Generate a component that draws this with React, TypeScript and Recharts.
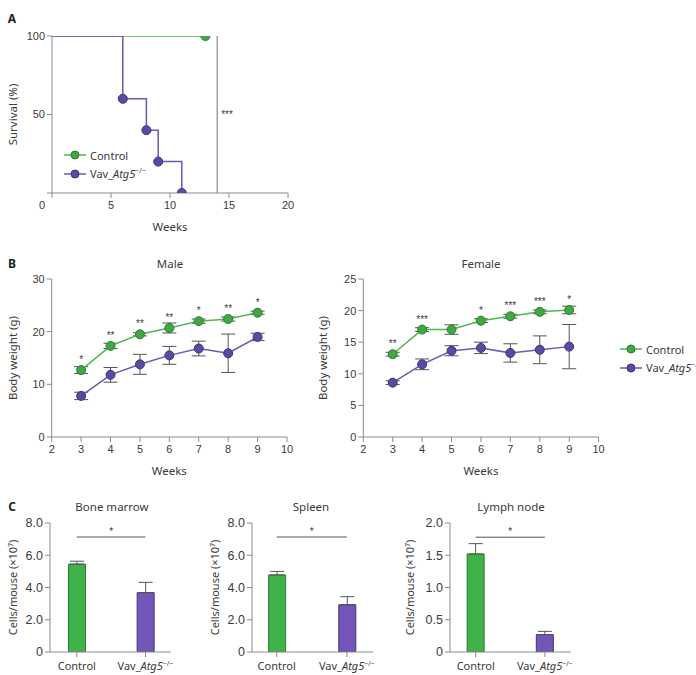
import React from "react";
import {
  LineChart,
  Line,
  BarChart,
  Bar,
  Cell,
  XAxis,
  YAxis,
  ErrorBar,
  LabelList,
  ReferenceLine,
  Legend,
} from "recharts";

// ---- data ----
// A: survival curves
const survWeeksControl = [0, 13];
const survControl = [100, 100];
const survWeeksVav = [0, 6, 8, 9, 11];
const survVav = [100, 60, 40, 20, 0];

// B: body weight by week
const weeks = [3, 4, 5, 6, 7, 8, 9];
const maleControl = [12.7, 17.3, 19.5, 20.7, 22.0, 22.4, 23.6];
const maleControlErr = [0.65, 0.5, 0.3, 0.95, 0.4, 0.4, 0.3];
const maleVav = [7.8, 11.8, 13.8, 15.5, 16.8, 15.9, 19.0];
const maleVavErr = [0.7, 1.4, 1.9, 1.7, 1.4, 3.65, 0.7];
const maleSig = ["*", "**", "**", "**", "*", "**", "*"];
const femaleControl = [13.1, 17.0, 17.0, 18.4, 19.1, 19.8, 20.1];
const femaleControlErr = [0.3, 0.3, 0.75, 0.3, 0.3, 0.3, 0.6];
const femaleVav = [8.6, 11.5, 13.65, 14.1, 13.3, 13.8, 14.3];
const femaleVavErr = [0.3, 0.85, 0.8, 0.9, 1.45, 2.2, 3.5];
const femaleSig = ["**", "***", "", "*", "***", "***", "*"];

// C: cell counts (x10^7 per mouse)
const groups = ["Control", "Vav_Atg5-/-"];
const boneMarrow = [5.45, 3.68];
const boneMarrowErr = [0.18, 0.64];
const spleen = [4.78, 2.93];
const spleenErr = [0.22, 0.5];
const lymphNode = [1.52, 0.27];
const lymphNodeErr = [0.16, 0.05];

// ---- style ----
const GREEN_LINE = "#4cb84e";
const GREEN_DOT = "#3fa843";
const GREEN_EDGE = "#2b7d30";
const PURPLE_LINE = "#6a5ab0";
const PURPLE_DOT = "#5a4aa0";
const PURPLE_EDGE = "#3f327f";
const BAR_GREEN = "#3fb24a";
const BAR_PURPLE = "#7456b8";
const AXIS = "#8c8c8c";
const TEXT = "#3a3a3a";
const ERR = "#555";
const TICK_FONT = "'Liberation Sans', Arial, sans-serif";
const TITLE_FONT = "'Noto Sans', 'Open Sans', sans-serif";

const tickStyle = { fill: TEXT, fontSize: 11, fontFamily: TICK_FONT };

function yTitle(text: string, offset: number, size = 11.5) {
  return {
    value: text,
    angle: -90,
    position: "insideLeft" as const,
    offset,
    fill: TEXT,
    fontSize: size,
    fontFamily: TITLE_FONT,
    style: { textAnchor: "middle" },
  };
}

const xTitle = {
  value: "Weeks",
  position: "insideBottom" as const,
  offset: 2,
  fill: TEXT,
  fontSize: 11.5,
  fontFamily: TITLE_FONT,
};

function WeekTick(props: any) {
  const { x, y, payload, shiftZero } = props;
  const dx = shiftZero && payload.value === 0 ? -10 : 0;
  return (
    <text x={x + dx} y={y} dy="0.75em" textAnchor="middle" {...tickStyle}>
      {payload.value}
    </text>
  );
}

function GroupTick(props: any) {
  const { x, y, payload } = props;
  const name = groups[payload.value];
  const style = { fill: TEXT, fontSize: 11, fontFamily: TITLE_FONT };
  if (name === "Control") {
    return (
      <text x={x} y={y} dy="0.75em" textAnchor="middle" {...style}>
        Control
      </text>
    );
  }
  return (
    <text x={x} y={y} dy="0.75em" textAnchor="middle" {...style}>
      <tspan>Vav_</tspan>
      <tspan fontStyle="italic">Atg5</tspan>
      <tspan dy={-4} fontSize={7}>−/−</tspan>
    </text>
  );
}

function SeriesLegend() {
  const rows = [
    { key: "c", line: GREEN_LINE, fill: GREEN_DOT, edge: GREEN_EDGE, label: <span>Control</span> },
    {
      key: "v",
      line: PURPLE_LINE,
      fill: PURPLE_DOT,
      edge: PURPLE_EDGE,
      label: (
        <span>
          Vav_<i>Atg5</i>
          <sup style={{ fontSize: 7 }}>−/−</sup>
        </span>
      ),
    },
  ];
  return (
    <div style={{ fontFamily: TITLE_FONT, fontSize: 11, color: TEXT, whiteSpace: "nowrap" }}>
      {rows.map((r) => (
        <div key={r.key} style={{ display: "flex", alignItems: "center", height: 18.5 }}>
          <svg width={26} height={12} style={{ flex: "none" }}>
            <line x1={0} x2={22} y1={6} y2={6} stroke={r.line} strokeWidth={1.5} />
            <circle cx={11} cy={6} r={4} fill={r.fill} stroke={r.edge} />
          </svg>
          {r.label}
        </div>
      ))}
    </div>
  );
}

function Title({ text, cx, cy, bold }: { text: string; cx: number; cy: number; bold?: boolean }) {
  return (
    <div
      style={{
        position: "absolute",
        left: cx - 60,
        top: cy - 8,
        width: 120,
        textAlign: "center",
        fontFamily: TITLE_FONT,
        fontSize: bold ? 12 : 11.5,
        fontWeight: bold ? 700 : 400,
        color: bold ? "#222" : TEXT,
        lineHeight: "16px",
      }}
    >
      {text}
    </div>
  );
}

function SurvivalPanel() {
  const controlData = survWeeksControl.map((w, i) => ({ week: w, pct: survControl[i] }));
  const vavData = survWeeksVav.map((w, i) => ({ week: w, pct: survVav[i] }));
  const dot = (fill: string, edge: string) => (p: any) =>
    p.index === 0 ? (
      <g key={`d${p.index}`} />
    ) : (
      <circle key={`d${p.index}`} cx={p.cx} cy={p.cy} r={4.5} fill={fill} stroke={edge} strokeWidth={1} />
    );
  return (
    <div style={{ position: "absolute", left: 0, top: 0 }}>
      <LineChart width={300} height={240} margin={{ top: 36, right: 12, bottom: 7, left: 0 }}>
        <XAxis
          type="number"
          dataKey="week"
          domain={[0, 20]}
          ticks={[0, 5, 10, 15, 20]}
          allowDataOverflow
          height={40}
          stroke={AXIS}
          tickSize={5}
          tickMargin={3}
          tick={<WeekTick shiftZero />}
          label={xTitle}
        />
        <YAxis
          type="number"
          domain={[0, 100]}
          ticks={[0, 50, 100]}
          allowDataOverflow
          width={52}
          stroke={AXIS}
          tickSize={5}
          tickMargin={2}
          tick={tickStyle}
          tickFormatter={(v: number) => (v === 0 ? "" : String(v))}
          label={yTitle("Survival (%)", 13)}
        />
        <ReferenceLine
          x={14}
          stroke={AXIS}
          strokeWidth={1.2}
          label={{ value: "***", position: "right", offset: 4, fill: TEXT, fontSize: 10, fontFamily: TICK_FONT }}
        />
        <Line
          data={controlData}
          dataKey="pct"
          name="Control"
          type="linear"
          stroke={GREEN_LINE}
          strokeWidth={1.5}
          dot={dot(GREEN_DOT, GREEN_EDGE)}
          isAnimationActive={false}
        />
        <Line
          data={vavData}
          dataKey="pct"
          name="Vav_Atg5-/-"
          type="stepAfter"
          stroke={PURPLE_LINE}
          strokeWidth={1.5}
          dot={dot(PURPLE_DOT, PURPLE_EDGE)}
          isAnimationActive={false}
        />
        <Legend
          layout="vertical"
          align="center"
          verticalAlign="middle"
          content={() => <SeriesLegend />}
          wrapperStyle={{ left: 64, top: 146, width: "auto" }}
        />
      </LineChart>
    </div>
  );
}

function WeightPanel({
  control,
  controlErr,
  vav,
  vavErr,
  sig,
  yMax,
  yTicks,
  left,
  width,
  axisWidth,
  titleOffset,
  legend,
}: {
  control: number[];
  controlErr: number[];
  vav: number[];
  vavErr: number[];
  sig: string[];
  yMax: number;
  yTicks: number[];
  left: number;
  width: number;
  axisWidth: number;
  titleOffset: number;
  legend?: boolean;
}) {
  const data = weeks.map((w, i) => ({
    week: w,
    control: control[i],
    controlErr: controlErr[i],
    vav: vav[i],
    vavErr: vavErr[i],
    sig: sig[i],
  }));
  const plotRight = axisWidth + 235.3;
  return (
    <div style={{ position: "absolute", left, top: 250 }}>
      <LineChart
        width={width}
        height={230}
        data={data}
        margin={{ top: 29, right: width - plotRight, bottom: 3, left: 0 }}
      >
        <XAxis
          type="number"
          dataKey="week"
          domain={[2, 10]}
          ticks={[2, 3, 4, 5, 6, 7, 8, 9, 10]}
          allowDataOverflow
          height={40}
          stroke={AXIS}
          tickSize={5}
          tickMargin={3}
          tick={<WeekTick />}
          label={xTitle}
        />
        <YAxis
          type="number"
          domain={[0, yMax]}
          ticks={yTicks}
          allowDataOverflow
          width={axisWidth}
          stroke={AXIS}
          tickSize={5}
          tickMargin={2}
          tick={tickStyle}
          label={yTitle("Body weight (g)", titleOffset)}
        />
        <Line
          dataKey="vav"
          name="Vav_Atg5-/-"
          stroke={PURPLE_LINE}
          strokeWidth={1.5}
          dot={{ r: 4.5, fill: PURPLE_DOT, stroke: PURPLE_EDGE, strokeWidth: 1 }}
          isAnimationActive={false}
        >
          <ErrorBar dataKey="vavErr" width={7} stroke={ERR} strokeWidth={1} direction="y" />
        </Line>
        <Line
          dataKey="control"
          name="Control"
          stroke={GREEN_LINE}
          strokeWidth={1.5}
          dot={{ r: 4.5, fill: GREEN_DOT, stroke: GREEN_EDGE, strokeWidth: 1 }}
          isAnimationActive={false}
        >
          <ErrorBar dataKey="controlErr" width={7} stroke={ERR} strokeWidth={1} direction="y" />
          <LabelList dataKey="sig" position="top" offset={7} fill={TEXT} fontSize={10} fontFamily={TICK_FONT} />
        </Line>
        {legend && (
          <Legend
            layout="vertical"
            align="center"
            verticalAlign="middle"
            content={() => <SeriesLegend />}
            wrapperStyle={{ left: 320, top: 90, width: "auto" }}
          />
        )}
      </LineChart>
    </div>
  );
}

function CellPanel({
  values,
  errors,
  yMax,
  yTicks,
  sigY,
  left,
  axisWidth,
  titleOffset,
  domain,
}: {
  values: number[];
  errors: number[];
  yMax: number;
  yTicks: number[];
  sigY: number;
  left: number;
  axisWidth: number;
  titleOffset: number;
  domain: [number, number];
}) {
  const data = groups.map((g, i) => ({ x: i, name: g, value: values[i], err: [0, errors[i]] }));
  const plotRight = axisWidth + 121;
  return (
    <div style={{ position: "absolute", left, top: 490 }}>
      <BarChart width={190} height={185} data={data} margin={{ top: 33, right: 190 - plotRight, bottom: 3, left: 0 }}>
        <XAxis
          type="number"
          dataKey="x"
          domain={domain}
          ticks={[0, 1]}
          allowDataOverflow
          height={20}
          stroke={AXIS}
          tickSize={5}
          tickMargin={5}
          tick={<GroupTick />}
        />
        <YAxis
          type="number"
          domain={[0, yMax]}
          ticks={yTicks}
          allowDataOverflow
          width={axisWidth}
          stroke={AXIS}
          tickSize={5}
          tickMargin={2}
          tick={{ fill: TEXT, fontSize: 12.5, fontFamily: TICK_FONT }}
          tickFormatter={(v: number) => (v === 0 ? "0" : v.toFixed(1))}
          label={yTitle("Cells/mouse (×10⁷)", titleOffset, 11)}
        />
        <ReferenceLine
          segment={[
            { x: 0, y: sigY },
            { x: 1, y: sigY },
          ]}
          stroke={ERR}
          strokeWidth={1}
          label={{ value: "*", position: "top", offset: 2, fill: TEXT, fontSize: 10, fontFamily: TICK_FONT }}
        />
        <Bar dataKey="value" barSize={17} isAnimationActive={false}>
          {data.map((d, i) => (
            <Cell
              key={d.name}
              fill={i === 0 ? BAR_GREEN : BAR_PURPLE}
              stroke={i === 0 ? GREEN_EDGE : PURPLE_EDGE}
              strokeWidth={1}
            />
          ))}
          <ErrorBar dataKey="err" width={7} stroke={ERR} strokeWidth={1} direction="y" />
        </Bar>
      </BarChart>
    </div>
  );
}

export default function App() {
  return (
    <div
      style={{
        position: "absolute",
        left: 0,
        top: 0,
        width: 696,
        height: 675,
        background: "#fff",
        overflow: "hidden",
      }}
    >
      <Title text="A" cx={12} cy={19} bold />
      <Title text="B" cx={12} cy={264} bold />
      <Title text="C" cx={12} cy={507} bold />
      <SurvivalPanel />

      <Title text="Male" cx={170} cy={264} />
      <Title text="Female" cx={481} cy={264} />
      <WeightPanel
        control={maleControl}
        controlErr={maleControlErr}
        vav={maleVav}
        vavErr={maleVavErr}
        sig={maleSig}
        yMax={30}
        yTicks={[0, 10, 20, 30]}
        left={0}
        width={300}
        axisWidth={51.7}
        titleOffset={13}
      />
      <WeightPanel
        control={femaleControl}
        controlErr={femaleControlErr}
        vav={femaleVav}
        vavErr={femaleVavErr}
        sig={femaleSig}
        yMax={25}
        yTicks={[0, 5, 10, 15, 20, 25]}
        left={300}
        width={396}
        axisWidth={63.3}
        titleOffset={23}
        legend
      />

      <Title text="Bone marrow" cx={112} cy={507} />
      <Title text="Spleen" cx={311} cy={507} />
      <Title text="Lymph node" cx={511} cy={507} />
      <CellPanel
        values={boneMarrow}
        errors={boneMarrowErr}
        yMax={8}
        yTicks={[0, 2, 4, 6, 8]}
        sigY={7.13}
        left={0}
        axisWidth={50}
        titleOffset={13}
        domain={[-0.391, 1.372]}
      />
      <CellPanel
        values={spleen}
        errors={spleenErr}
        yMax={8}
        yTicks={[0, 2, 4, 6, 8]}
        sigY={7.13}
        left={200}
        axisWidth={52}
        titleOffset={15}
        domain={[-0.352, 1.372]}
      />
      <CellPanel
        values={lymphNode}
        errors={lymphNodeErr}
        yMax={2}
        yTicks={[0, 0.5, 1, 1.5, 2]}
        sigY={1.78}
        left={400}
        axisWidth={50}
        titleOffset={10}
        domain={[-0.372, 1.377]}
      />
    </div>
  );
}
